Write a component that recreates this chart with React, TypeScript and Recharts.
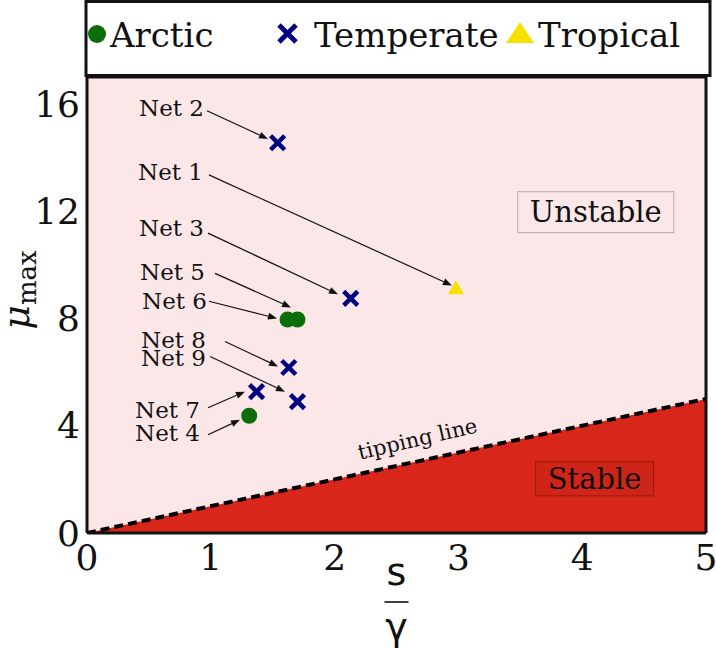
import {
  ComposedChart,
  XAxis,
  YAxis,
  Area,
  Line,
  Scatter,
  CartesianGrid,
  ReferenceLine,
  ReferenceDot,
} from "recharts";

const serif = "'DejaVu Serif', serif";
const sans = "'DejaVu Sans', sans-serif";

const PINK = "#fbe6e8";
const RED = "#d8261b";
const GREEN = "#0b6e0b";
const NAVY = "#000080";
const YELLOW = "#f7e100";

// axis ticks
const xTicks = [0, 1, 2, 3, 4, 5];
const yTicks = [0, 4, 8, 12, 16];
const yMinorTicks = [0, 2, 4, 6, 8, 10, 12, 14, 16];

// networks, one array per climate zone
const arctic = [
  { x: 1.31, y: 4.37 },
  { x: 1.62, y: 7.96 },
  { x: 1.7, y: 7.96 },
];
const temperate = [
  { x: 1.54, y: 14.55 },
  { x: 2.13, y: 8.75 },
  { x: 1.63, y: 6.17 },
  { x: 1.7, y: 4.9 },
  { x: 1.37, y: 5.27 },
];
const tropical = [{ x: 2.98, y: 9.12 }];

// tipping line mu = s / gamma
const tipping = [
  { x: 0, y: 0 },
  { x: 5, y: 5 },
];

// "Net n" annotations: text end (tx, ty), arrow from (ax, ay) to (bx, by)
const notes = [
  { name: "Net 2", tx: 0.945, ty: 15.85, ax: 0.969, ay: 15.74, bx: 1.462, by: 14.69 },
  { name: "Net 1", tx: 0.937, ty: 13.46, ax: 0.985, ay: 13.35, bx: 2.948, by: 9.23 },
  { name: "Net 3", tx: 0.945, ty: 11.36, ax: 0.977, ay: 11.18, bx: 2.027, by: 8.9 },
  { name: "Net 5", tx: 0.953, ty: 9.72, ax: 1.034, ay: 9.68, bx: 1.648, by: 8.41 },
  { name: "Net 6", tx: 0.969, ty: 8.64, ax: 0.985, ay: 8.64, bx: 1.535, by: 8.0 },
  { name: "Net 8", tx: 0.961, ty: 7.21, ax: 1.115, ay: 7.14, bx: 1.543, by: 6.21 },
  { name: "Net 9", tx: 0.961, ty: 6.54, ax: 0.994, ay: 6.58, bx: 1.599, by: 5.27 },
  { name: "Net 7", tx: 0.913, ty: 4.6, ax: 0.977, ay: 4.67, bx: 1.276, by: 5.27 },
  { name: "Net 4", tx: 0.913, ty: 3.74, ax: 0.977, ay: 3.66, bx: 1.236, by: 4.22 },
];

const noteLabels = notes.map((n) => ({ x: n.tx, y: n.ty, name: n.name }));

const Dot = (p: any) => <circle cx={p.cx} cy={p.cy} r={8} fill={GREEN} />;

const Cross = (p: any) => (
  <g stroke={NAVY} strokeWidth={4.5}>
    <line x1={p.cx - 7} y1={p.cy - 7} x2={p.cx + 7} y2={p.cy + 7} />
    <line x1={p.cx - 7} y1={p.cy + 7} x2={p.cx + 7} y2={p.cy - 7} />
  </g>
);

const Tri = (p: any) => (
  <polygon
    points={`${p.cx},${p.cy - 8} ${p.cx - 8},${p.cy + 6} ${p.cx + 8},${p.cy + 6}`}
    fill={YELLOW}
  />
);

const NoteText = (p: any) => (
  <text
    x={p.cx}
    y={p.cy}
    textAnchor="end"
    dominantBaseline="central"
    fontFamily={serif}
    fontSize={23}
    fill="#111"
  >
    {p.payload.name}
  </text>
);

const Arrow = (p: any) => {
  const { x1, y1, x2, y2 } = p;
  const a = Math.atan2(y2 - y1, x2 - x1);
  const L = 9;
  const W = 3.5;
  const bx = x2 - L * Math.cos(a);
  const by = y2 - L * Math.sin(a);
  const px = -Math.sin(a) * W;
  const py = Math.cos(a) * W;
  return (
    <g>
      <line x1={x1} y1={y1} x2={bx} y2={by} stroke="#111" strokeWidth={1.2} />
      <polygon points={`${x2},${y2} ${bx + px},${by + py} ${bx - px},${by - py}`} fill="#111" />
    </g>
  );
};

const TextBox = (label: string, w: number, h: number, fill: string, stroke: string) => (p: any) => (
  <g>
    <rect x={p.cx - w / 2} y={p.cy - h / 2} width={w} height={h} fill={fill} stroke={stroke} strokeWidth={1} />
    <text
      x={p.cx}
      y={p.cy}
      textAnchor="middle"
      dominantBaseline="central"
      fontFamily={serif}
      fontSize={29}
      fill="#111"
    >
      {label}
    </text>
  </g>
);

const TippingText = (p: any) => (
  <text
    x={p.cx}
    y={p.cy}
    textAnchor="middle"
    dominantBaseline="central"
    fontFamily={serif}
    fontSize={21}
    fill="#111"
    transform={`rotate(-13, ${p.cx}, ${p.cy})`}
  >
    tipping line
  </text>
);

const YLabel = () => (
  <text x={29} y={290} transform="rotate(-90, 29, 290)" textAnchor="middle" fontFamily={serif} fill="#111">
    <tspan fontStyle="italic" fontSize={38}>
      μ
    </tspan>
    <tspan fontSize={26} dy={7}>
      max
    </tspan>
  </text>
);

const XLabel = (p: any) => {
  const cx = p.viewBox.x + p.viewBox.width / 2;
  return (
    <g fontFamily={sans} fill="#111">
      <text x={cx} y={585} textAnchor="middle" fontSize={38}>
        s
      </text>
      <line x1={cx - 12} x2={cx + 12} y1={602} y2={602} stroke="#111" strokeWidth={1.6} />
      <text x={cx} y={640} textAnchor="middle" fontSize={38}>
        γ
      </text>
    </g>
  );
};

const tickStyle = { fontSize: 36, fill: "#111", fontFamily: serif };

const Legend = () => (
  <svg width={716} height={80} style={{ position: "absolute", left: 0, top: 0 }}>
    <rect x={86} y={1.5} width={624} height={74} fill="#fff" stroke="#111" strokeWidth={3} />
    <g fontFamily={serif} fontSize={34} fill="#111">
      <circle cx={97} cy={34} r={9} fill={GREEN} />
      <text x={110} y={47}>
        Arctic
      </text>
      <g stroke={NAVY} strokeWidth={5}>
        <line x1={279} y1={25} x2={296} y2={42} />
        <line x1={279} y1={42} x2={296} y2={25} />
      </g>
      <text x={314} y={47}>
        Temperate
      </text>
      <polygon points="520,22 506,43 534,43" fill={YELLOW} />
      <text x={538} y={47}>
        Tropical
      </text>
    </g>
  </svg>
);

export default function App() {
  return (
    <div style={{ position: "absolute", left: 0, top: 0, width: 716, height: 649, background: "#fff" }}>
      <ComposedChart width={716} height={649} margin={{ top: 77, right: 10, bottom: 0, left: 0 }}>
        <CartesianGrid xAxisId="x" yAxisId="y" horizontal={false} vertical={false} fill={PINK} fillOpacity={1} />
        <Area
          xAxisId="x"
          yAxisId="y"
          data={tipping}
          dataKey="y"
          type="linear"
          stroke="none"
          fill={RED}
          fillOpacity={1}
          isAnimationActive={false}
        />
        <Line
          xAxisId="x"
          yAxisId="y"
          data={tipping}
          dataKey="y"
          type="linear"
          stroke="#000"
          strokeWidth={4}
          strokeDasharray="9 5"
          dot={false}
          isAnimationActive={false}
        />
        <ReferenceDot xAxisId="x" yAxisId="y" x={4.11} y={11.96} shape={TextBox("Unstable", 156, 41, PINK, "#b9a7a8")} />
        <ReferenceDot xAxisId="x" yAxisId="y" x={4.1} y={2.02} shape={TextBox("Stable", 118, 34, "#cf2418", "#9a1a12")} />
        <ReferenceDot xAxisId="x" yAxisId="y" x={2.67} y={3.5} shape={TippingText} />
        {notes.map((n) => (
          <ReferenceLine
            key={n.name}
            xAxisId="x"
            yAxisId="y"
            segment={[
              { x: n.ax, y: n.ay },
              { x: n.bx, y: n.by },
            ]}
            shape={Arrow}
          />
        ))}
        <Scatter xAxisId="x" yAxisId="y" data={noteLabels} shape={NoteText} isAnimationActive={false} />
        <Scatter xAxisId="x" yAxisId="y" name="Arctic" data={arctic} shape={Dot} isAnimationActive={false} />
        <Scatter xAxisId="x" yAxisId="y" name="Temperate" data={temperate} shape={Cross} isAnimationActive={false} />
        <Scatter xAxisId="x" yAxisId="y" name="Tropical" data={tropical} shape={Tri} isAnimationActive={false} />

        <XAxis
          xAxisId="x"
          type="number"
          dataKey="x"
          domain={[0, 5]}
          ticks={xTicks}
          interval={0}
          allowDataOverflow
          height={116}
          axisLine={false}
          tickLine={false}
          tickSize={0}
          tickMargin={11}
          tick={tickStyle}
          label={{ content: XLabel }}
        />
        <YAxis
          yAxisId="y"
          type="number"
          dataKey="y"
          domain={[0, 17]}
          ticks={yTicks}
          interval={0}
          allowDataOverflow
          width={87}
          axisLine={false}
          tickLine={false}
          tickSize={0}
          tickMargin={7}
          tick={tickStyle}
          label={{ content: YLabel }}
        />
        <XAxis
          xAxisId="xb"
          type="number"
          domain={[0, 5]}
          ticks={xTicks}
          interval={0}
          allowDataOverflow
          orientation="bottom"
          mirror
          tick={false}
          tickSize={9}
          tickLine={{ stroke: "#111", strokeWidth: 2 }}
          axisLine={{ stroke: "#111", strokeWidth: 3 }}
        />
        <XAxis
          xAxisId="xt"
          type="number"
          domain={[0, 5]}
          ticks={xTicks}
          interval={0}
          allowDataOverflow
          orientation="top"
          mirror
          tick={false}
          tickSize={9}
          tickLine={{ stroke: "#111", strokeWidth: 2 }}
          axisLine={{ stroke: "#111", strokeWidth: 3 }}
        />
        <YAxis
          yAxisId="yl"
          type="number"
          domain={[0, 17]}
          ticks={yMinorTicks}
          interval={0}
          allowDataOverflow
          orientation="left"
          mirror
          tick={false}
          tickSize={9}
          tickLine={{ stroke: "#111", strokeWidth: 2 }}
          axisLine={{ stroke: "#111", strokeWidth: 3 }}
        />
        <YAxis
          yAxisId="yr"
          type="number"
          domain={[0, 17]}
          ticks={yMinorTicks}
          interval={0}
          allowDataOverflow
          orientation="right"
          mirror
          tick={false}
          tickSize={9}
          tickLine={{ stroke: "#111", strokeWidth: 2 }}
          axisLine={{ stroke: "#111", strokeWidth: 3 }}
        />
      </ComposedChart>
      <Legend />
    </div>
  );
}
